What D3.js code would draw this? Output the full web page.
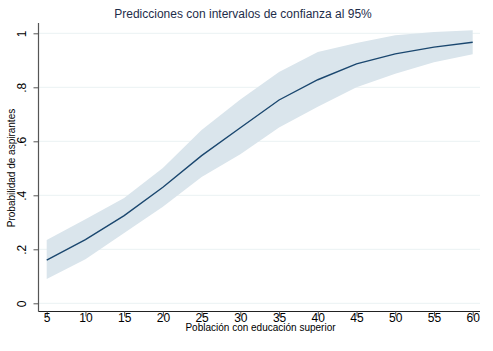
<!DOCTYPE html>
<html><head><meta charset="utf-8">
<script src="https://cdn.jsdelivr.net/npm/d3@7"></script>
<style>body{margin:0;background:#fff}svg{display:block;font-family:"Liberation Sans",Arial,sans-serif}</style>
</head><body><div id="chart"></div>
<script>
const xValues = [5,10,15,20,25,30,35,40,45,50,55,60];
const predicted = [0.160,0.236,0.325,0.430,0.547,0.650,0.753,0.828,0.887,0.924,0.949,0.967];
const lowerCI = [0.090,0.163,0.260,0.358,0.468,0.552,0.651,0.728,0.800,0.850,0.893,0.922];
const upperCI = [0.234,0.311,0.390,0.501,0.642,0.755,0.857,0.931,0.964,0.993,1.005,1.011];
const xTicks = [5,10,15,20,25,30,35,40,45,50,55,60];
const yTicks = [0,0.2,0.4,0.6,0.8,1];
const yTickLabels = ["0",".2",".4",".6",".8","1"];

const W=493,H=351;
const svg=d3.select("#chart").append("svg").attr("width",W).attr("height",H);
const x=d3.scaleLinear().domain([5,60]).range([46.7,472.7]);
const y=d3.scaleLinear().domain([0,1]).range([303.3,33.3]);
const pLeft=38.5, pRight=480, pTop=23, pBottom=311.5;

// gridlines
svg.append("g").selectAll("line").data(yTicks).join("line")
  .attr("x1",pLeft).attr("x2",pRight).attr("y1",d=>y(d)).attr("y2",d=>y(d))
  .attr("stroke","#eaf2f3").attr("stroke-width",1);

const data=xValues.map((v,i)=>({x:v,p:predicted[i],lo:lowerCI[i],hi:upperCI[i]}));
svg.append("path").datum(data)
  .attr("d",d3.area().x(d=>x(d.x)).y0(d=>y(d.lo)).y1(d=>y(d.hi)))
  .attr("fill","#dae5ec");
svg.append("path").datum(data)
  .attr("d",d3.line().x(d=>x(d.x)).y(d=>y(d.p)))
  .attr("fill","none").attr("stroke","#1a476f").attr("stroke-width",1.4);

// y axis
const ya=svg.append("g").attr("transform",`translate(${pLeft},0)`)
  .call(d3.axisLeft(y).tickValues(yTicks).tickSize(5).tickFormat((d,i)=>yTickLabels[i]));
ya.select(".domain").attr("d",`M0,${pTop}V${pBottom}`).attr("stroke","#555").attr("stroke-width",1.2);
ya.selectAll(".tick line").attr("stroke","#555");
ya.selectAll(".tick text").attr("font-size",12).attr("fill","#000")
  .attr("text-anchor","middle").attr("dy",null).attr("x",null)
  .attr("transform","translate(-12.5,0) rotate(-90)");

// x axis
const xa=svg.append("g").attr("transform",`translate(0,${pBottom})`)
  .call(d3.axisBottom(x).tickValues(xTicks).tickSize(5).tickFormat(d3.format("d")));
xa.select(".domain").attr("d",`M${pLeft},0H${pRight}`).attr("stroke","#222").attr("stroke-width",1.2);
xa.selectAll(".tick line").attr("stroke","#555");
xa.selectAll(".tick text").attr("font-size",12).attr("fill","#000").attr("y",2).attr("dy","0.71em");

svg.append("text").attr("x",243).attr("y",17.5).attr("text-anchor","middle")
  .attr("font-size",12).attr("fill","#1e2d4a").text("Predicciones con intervalos de confianza al 95%");
svg.append("text").attr("x",260.5).attr("y",331).attr("text-anchor","middle")
  .attr("font-size",10).attr("fill","#000").text("Población con educación superior");
svg.append("text").attr("transform","translate(14.5,168) rotate(-90)").attr("text-anchor","middle")
  .attr("font-size",10).attr("fill","#000").text("Probabilidad de aspirantes");
</script></body></html>
